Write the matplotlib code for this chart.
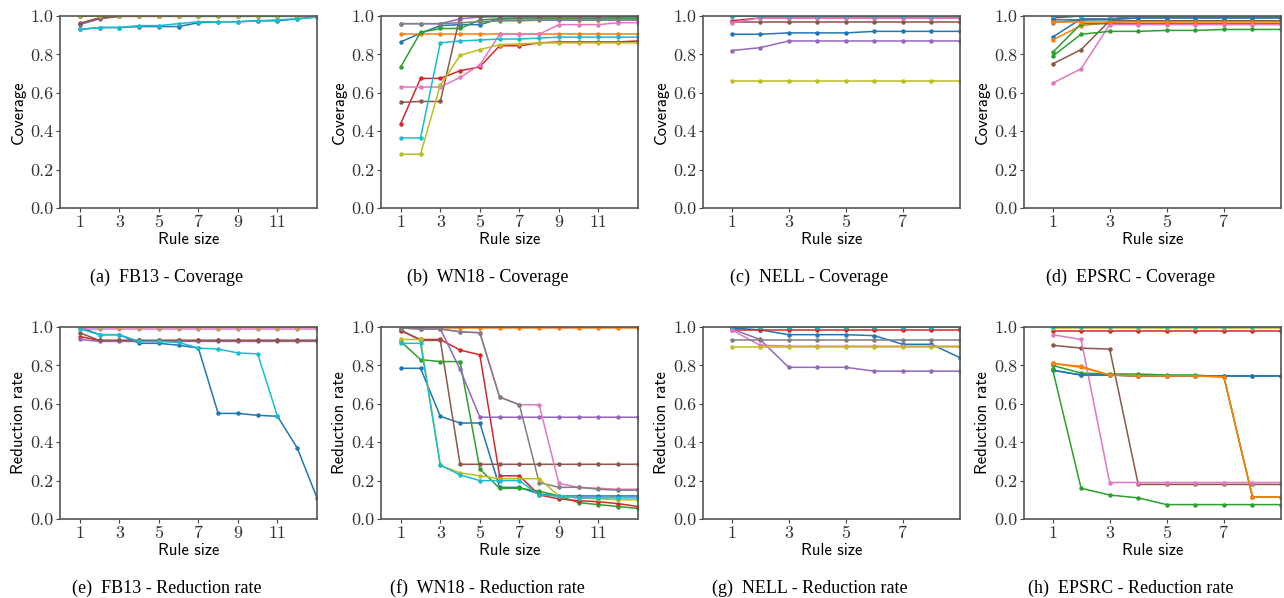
import numpy as np
import matplotlib
matplotlib.use("Agg")
import matplotlib.pyplot as plt

# rule sizes
x_long = [1, 2, 3, 4, 5, 6, 7, 8, 9, 10, 11, 12, 13]
x_short = [1, 2, 3, 4, 5, 6, 7, 8, 9]

# FB13 coverage (tab10 order)
fb13_cov = [
    [0.93, 0.94, 0.94, 0.945, 0.945, 0.945, 0.965, 0.97, 0.97, 0.975, 0.975, 0.985, 0.995],
    [1.0] * 13,
    [1.0] * 13,
    [0.96, 0.99, 1.0, 1.0, 1.0, 1.0, 1.0, 1.0, 1.0, 1.0, 1.0, 1.0, 1.0],
    [0.955, 0.985, 0.998, 1.0, 1.0, 1.0, 1.0, 1.0, 1.0, 1.0, 1.0, 1.0, 1.0],
    [0.962, 0.99, 0.998, 0.998, 0.998, 0.998, 0.998, 0.998, 0.998, 0.998, 0.998, 0.998, 0.998],
    [1.0] * 13,
    [1.0] * 13,
    [1.0] * 13,
    [0.93, 0.94, 0.94, 0.95, 0.95, 0.96, 0.97, 0.97, 0.97, 0.975, 0.98, 0.985, 0.995],
]

# FB13 reduction rate
fb13_red = [
    [1.0, 0.96, 0.96, 0.915, 0.915, 0.905, 0.89, 0.55, 0.55, 0.54, 0.535, 0.37, 0.11],
    [0.998] * 13,
    [1.0] * 13,
    [0.95, 0.93, 0.93, 0.93, 0.93, 0.93, 0.93, 0.93, 0.93, 0.93, 0.93, 0.93, 0.93],
    [0.935, 0.925, 0.925, 0.925, 0.925, 0.925, 0.925, 0.925, 0.925, 0.925, 0.925, 0.925, 0.925],
    [0.97, 0.93, 0.93, 0.93, 0.93, 0.93, 0.93, 0.93, 0.93, 0.93, 0.93, 0.93, 0.93],
    [0.99] * 13,
    [1.0] * 13,
    [1.0] * 13,
    [0.99, 0.96, 0.96, 0.925, 0.925, 0.92, 0.89, 0.885, 0.865, 0.86, 0.535, np.nan, np.nan],
]

# WN18 coverage
wn18_cov = [
    [0.865, 0.91, 0.95, 0.955, 0.955, 0.985, 0.99, 0.99, 0.99, 0.99, 0.99, 0.99, 0.99],
    [0.905] * 13,
    [0.735, 0.915, 0.935, 0.935, 0.98, 0.985, 0.985, 0.985, 0.985, 0.985, 0.985, 0.985, 0.985],
    [0.44, 0.675, 0.675, 0.715, 0.735, 0.845, 0.845, 0.86, 0.865, 0.865, 0.865, 0.865, 0.87],
    [0.96, 0.96, 0.96, 0.985, 0.995, 0.995, 0.995, 0.995, 0.995, 0.995, 0.995, 0.995, 0.995],
    [0.55, 0.555, 0.555, 1.0, 1.0, 1.0, 1.0, 1.0, 1.0, 1.0, 1.0, 1.0, 1.0],
    [0.63, 0.63, 0.63, 0.68, 0.745, 0.905, 0.905, 0.905, 0.955, 0.955, 0.955, 0.965, 0.965],
    [0.96, 0.96, 0.96, 0.965, 0.97, 0.975, 0.975, 0.978, 0.978, 0.978, 0.978, 0.978, 0.978],
    [0.28, 0.28, 0.64, 0.795, 0.825, 0.85, 0.855, 0.86, 0.86, 0.86, 0.86, 0.86, 0.86],
    [0.365, 0.365, 0.86, 0.87, 0.875, 0.88, 0.88, 0.885, 0.89, 0.89, 0.89, 0.89, 0.89],
]

# WN18 reduction rate
wn18_red = [
    [0.785, 0.785, 0.535, 0.5, 0.5, 0.165, 0.165, 0.13, 0.12, 0.12, 0.12, 0.12, 0.12],
    [0.995] * 13,
    [0.925, 0.83, 0.82, 0.82, 0.26, 0.16, 0.16, 0.145, 0.12, 0.085, 0.075, 0.065, 0.055],
    [0.98, 0.935, 0.935, 0.88, 0.855, 0.225, 0.225, 0.125, 0.105, 0.095, 0.09, 0.08, 0.065],
    [0.995, 0.99, 0.99, 0.78, 0.53, 0.53, 0.53, 0.53, 0.53, 0.53, 0.53, 0.53, 0.53],
    [0.985, 0.93, 0.93, 0.285, 0.285, 0.285, 0.285, 0.285, 0.285, 0.285, 0.285, 0.285, 0.285],
    [0.995, 0.99, 0.99, 0.975, 0.97, 0.635, 0.595, 0.595, 0.185, 0.165, 0.16, 0.155, 0.155],
    [0.995, 0.99, 0.99, 0.975, 0.97, 0.635, 0.595, 0.19, 0.165, 0.165, 0.155, 0.15, 0.15],
    [0.935, 0.935, 0.28, 0.24, 0.225, 0.21, 0.21, 0.21, 0.12, 0.11, 0.105, 0.1, 0.1],
    [0.915, 0.915, 0.28, 0.23, 0.2, 0.2, 0.2, 0.125, 0.12, 0.11, 0.11, 0.11, 0.11],
]

# NELL coverage
nell_cov = [
    [0.905, 0.905, 0.912, 0.912, 0.912, 0.92, 0.92, 0.92, 0.92],
    [1.0] * 9,
    [1.0] * 9,
    [0.975, 0.99, 0.99, 0.99, 0.99, 0.99, 0.99, 0.99, 0.99],
    [0.82, 0.835, 0.87, 0.87, 0.87, 0.87, 0.87, 0.87, 0.87],
    [0.97] * 9,
    [0.965, 0.99, 0.99, 0.99, 0.99, 0.99, 0.99, 0.99, 0.99],
    [1.0] * 9,
    [0.66] * 9,
    [1.0] * 9,
]

# NELL reduction rate
nell_red = [
    [0.995, 0.985, 0.96, 0.96, 0.96, 0.955, 0.91, 0.91, 0.84],
    [1.0] * 9,
    [1.0] * 9,
    [0.985] * 9,
    [0.99, 0.935, 0.79, 0.79, 0.79, 0.77, 0.77, 0.77, 0.77],
    [1.0] * 9,
    [0.985, 0.905, 0.9, 0.9, 0.9, 0.9, 0.9, 0.9, 0.9],
    [0.93] * 9,
    [0.895] * 9,
    [1.0] * 9,
]

# EPSRC coverage
epsrc_cov = [
    [0.89, 0.985, 0.985, 1.0, 1.0, 1.0, 1.0, 1.0, 1.0],
    [0.875, 0.95, 0.965, 0.975, 0.975, 0.975, 0.975, 0.975, 0.975],
    [0.81, 0.96, 0.96, 0.96, 0.96, 0.96, 0.96, 0.96, 0.96],
    [0.99, 1.0, 1.0, 1.0, 1.0, 1.0, 1.0, 1.0, 1.0],
    [1.0] * 9,
    [0.75, 0.825, 0.975, 0.975, 0.975, 0.975, 0.975, 0.975, 0.975],
    [0.65, 0.725, 0.955, 0.955, 0.955, 0.955, 0.955, 0.955, 0.955],
    [0.965, 0.98, 0.985, 0.99, 0.99, 0.99, 0.99, 0.99, 0.99],
    [1.0] * 9,
    [1.0] * 9,
    [0.98, 0.98, 0.98, 0.99, 0.99, 0.99, 0.99, 0.99, 0.99],
    [0.97, 0.97, 0.97, 0.97, 0.97, 0.97, 0.97, 0.97, 0.97],
    [0.79, 0.905, 0.92, 0.92, 0.925, 0.925, 0.93, 0.93, 0.93],
]

# EPSRC reduction rate
epsrc_red = [
    [0.775, 0.75, 0.75, 0.745, 0.745, 0.745, 0.745, 0.745, 0.745],
    [0.81, 0.795, 0.75, 0.745, 0.745, 0.745, 0.74, 0.115, 0.115],
    [0.8, 0.76, 0.755, 0.755, 0.75, 0.75, 0.74, 0.115, 0.115],
    [0.98] * 9,
    [1.0] * 9,
    [0.905, 0.89, 0.885, 0.18, 0.18, 0.18, 0.18, 0.18, 0.18],
    [0.96, 0.935, 0.19, 0.19, 0.19, 0.19, 0.19, 0.19, 0.19],
    [1.0] * 9,
    [0.995] * 9,
    [1.0] * 9,
    [0.775, 0.75, 0.75, 0.745, 0.745, 0.745, 0.745, 0.745, 0.745],
    [0.81, 0.79, 0.75, 0.745, 0.745, 0.745, 0.74, 0.115, 0.115],
    [0.78, 0.16, 0.125, 0.11, 0.075, 0.075, 0.075, 0.075, 0.075],
]

panels = [
    (x_long, fb13_cov, "Coverage", "(a)  FB13 - Coverage"),
    (x_long, wn18_cov, "Coverage", "(b)  WN18 - Coverage"),
    (x_short, nell_cov, "Coverage", "(c)  NELL - Coverage"),
    (x_short, epsrc_cov, "Coverage", "(d)  EPSRC - Coverage"),
    (x_long, fb13_red, "Reduction rate", "(e)  FB13 - Reduction rate"),
    (x_long, wn18_red, "Reduction rate", "(f)  WN18 - Reduction rate"),
    (x_short, nell_red, "Reduction rate", "(g)  NELL - Reduction rate"),
    (x_short, epsrc_red, "Reduction rate", "(h)  EPSRC - Reduction rate"),
]

W, H = 1284, 598
fig = plt.figure(figsize=(W / 100, H / 100), dpi=100)
colors = plt.rcParams["axes.prop_cycle"].by_key()["color"]

col_left = [60, 381, 703, 1024]
row_top = [16, 327]
aw, ah = 257, 192

for i, (xs, series, ylab, caption) in enumerate(panels):
    r, c = divmod(i, 4)
    left = col_left[c]
    top = row_top[r]
    ax = fig.add_axes([left / W, 1 - (top + ah) / H, aw / W, ah / H])
    for k, ys in enumerate(series):
        ax.plot(xs, ys, color=colors[k % 10], marker="o", markersize=2.2,
                linewidth=1.1)
    ax.set_xlim(0, xs[-1])
    ax.set_ylim(0, 1.0)
    ax.set_xticks(xs[::2][:-1])
    yt = [0.0, 0.2, 0.4, 0.6, 0.8, 1.0]
    ax.set_yticks(yt)
    ax.set_yticklabels(["%.1f" % v for v in yt])
    for lab in ax.get_xticklabels() + ax.get_yticklabels():
        lab.set_fontfamily("cmr10")
        lab.set_fontsize(13)
        lab.set_color("#333333")
    ax.tick_params(length=3, width=0.8, color="#444444", pad=2)
    for sp in ax.spines.values():
        sp.set_color("#555555")
        sp.set_linewidth(1.2)
    ax.set_xlabel("Rule size", fontfamily="cmss10", fontsize=12, labelpad=1)
    ax.set_ylabel(ylab, fontfamily="cmss10", fontsize=12, labelpad=3)
    fig.text((left + aw / 2 - 22) / W, 1 - (top + 261) / H, caption,
             ha="center", va="center", fontfamily="Liberation Serif",
             fontsize=13)

fig.savefig("out.png", dpi=100)
